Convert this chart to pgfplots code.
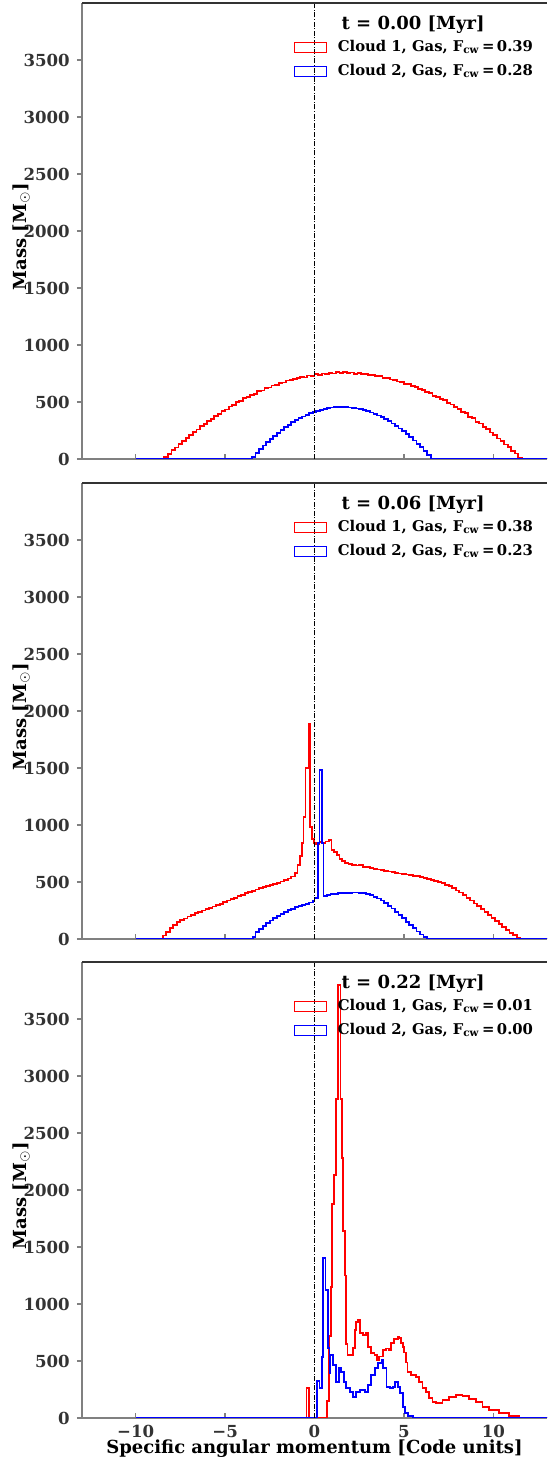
\documentclass[border=0pt]{standalone}
\usepackage{pgfplots}
\pgfplotsset{compat=1.18}
\usepackage{pgfplotstable}
\usepackage{fontspec}
\setmainfont{DejaVu Serif}

\pgfplotstableread{
x y
-10 0
-8.4 15
-8.2 45
-8.0 76
-7.8 100
-7.6 133
-7.4 155
-7.2 187
-7.0 208
-6.8 240
-6.6 258
-6.4 288
-6.2 305
-6.0 335
-5.8 351
-5.6 378
-5.4 394
-5.2 420
-5.0 434
-4.8 460
-4.6 472
-4.4 497
-4.2 508
-4.0 532
-3.8 541
-3.6 563
-3.4 572
-3.2 593
-3.0 601
-2.8 620
-2.6 627
-2.4 645
-2.2 650
-2.0 668
-1.8 671
-1.6 688
-1.4 690
-1.2 705
-1.0 707
-0.8 720
-0.6 715
-0.4 733
-0.2 728
0.0 744
0.2 738
0.4 750
0.6 746
0.8 757
1.0 750
1.2 760
1.4 753
1.6 762
1.8 752
2.0 759
2.2 748
2.4 755
2.6 744
2.8 748
3.0 736
3.2 740
3.4 726
3.6 727
3.8 713
4.0 713
4.2 698
4.4 696
4.6 680
4.8 678
5.0 660
5.2 656
5.4 638
5.6 633
5.8 613
6.0 607
6.2 586
6.4 578
6.6 556
6.8 547
7.0 524
7.2 514
7.4 489
7.6 478
7.8 453
8.0 440
8.2 413
8.4 400
8.6 371
8.8 357
9.0 327
9.2 311
9.4 281
9.6 263
9.8 232
10.0 213
10.2 180
10.4 160
10.6 127
10.8 105
11.0 71
11.2 48
11.4 13
11.6 0
14 0
}\redA

\pgfplotstableread{
x y
-10 0
-3.5 18
-3.3 53
-3.1 86
-2.9 118
-2.7 148
-2.5 177
-2.3 205
-2.1 231
-1.9 255
-1.7 279
-1.5 300
-1.3 321
-1.1 340
-0.9 357
-0.7 373
-0.5 388
-0.3 401
-0.1 413
0.1 423
0.3 432
0.5 440
0.7 446
0.9 451
1.1 454
1.3 456
1.5 456
1.7 455
1.9 452
2.1 448
2.3 443
2.5 436
2.7 428
2.9 418
3.1 407
3.3 395
3.5 381
3.7 365
3.9 349
4.1 330
4.3 311
4.5 290
4.7 267
4.9 243
5.1 218
5.3 191
5.5 163
5.7 133
5.9 102
6.1 69
6.3 35
6.5 0
14 0
}\blueA

\pgfplotstableread{
x y
-10 0
-8.46 30
-8.3 60
-8.1 95
-7.9 125
-7.7 148
-7.5 165
-7.3 180
-7.1 198
-6.9 210
-6.7 225
-6.5 238
-6.3 250
-6.1 262
-5.9 272
-5.7 285
-5.5 297
-5.3 310
-5.1 326
-4.9 338
-4.7 350
-4.5 362
-4.3 375
-4.1 388
-3.9 400
-3.7 412
-3.5 420
-3.3 435
-3.1 445
-2.9 455
-2.7 466
-2.5 472
-2.3 482
-2.1 492
-1.9 505
-1.7 515
-1.5 530
-1.3 548
-1.1 580
-0.95 650
-0.82 725
-0.72 840
-0.62 1070
-0.50 1500
-0.32 1886
-0.24 985
-0.16 880
-0.05 845
0.10 830
0.28 848
0.45 840
0.62 855
0.80 870
0.95 780
1.10 760
1.25 735
1.40 700
1.55 684
1.70 664
1.90 655
2.10 650
2.30 645
2.50 652
2.70 635
2.90 630
3.10 620
3.30 615
3.50 610
3.70 605
3.90 598
4.10 592
4.30 590
4.50 580
4.70 575
4.90 570
5.10 565
5.30 560
5.50 555
5.70 550
5.90 545
6.10 535
6.30 528
6.50 520
6.70 512
6.90 500
7.10 490
7.30 477
7.50 465
7.70 445
7.90 425
8.10 408
8.30 385
8.50 360
8.70 338
8.90 312
9.10 288
9.30 263
9.50 235
9.70 210
9.90 182
10.10 155
10.30 130
10.50 105
10.70 80
10.90 55
11.10 32
11.30 12
11.50 0
14 0
}\redB

\pgfplotstableread{
x y
-10 0
-3.46 20
-3.3 60
-3.1 90
-2.9 115
-2.7 140
-2.5 162
-2.3 185
-2.1 203
-1.9 222
-1.7 238
-1.5 252
-1.3 265
-1.1 278
-0.9 290
-0.7 300
-0.5 310
-0.3 320
-0.1 333
0.0 360
0.19 845
0.28 1482
0.41 845
0.50 380
0.70 386
0.90 392
1.10 396
1.30 400
1.50 402
1.70 404
1.90 406
2.10 407
2.30 408
2.50 406
2.70 400
2.90 392
3.10 383
3.30 370
3.50 355
3.70 337
3.90 315
4.10 292
4.30 267
4.50 240
4.70 212
4.90 182
5.10 152
5.30 122
5.50 93
5.70 66
5.90 40
6.10 18
6.30 5
6.48 0
14 0
}\blueB

\pgfplotstableread{
x y
-10 0
-0.45 260
-0.30 0
0.69 150
0.81 720
0.93 1150
0.99 1880
1.10 2130
1.22 2800
1.33 3800
1.45 2800
1.52 2280
1.60 1640
1.70 1250
1.78 650
1.85 550
2.14 611
2.27 772
2.32 845
2.42 860
2.55 743
2.70 728
2.88 743
2.97 626
3.16 567
3.35 553
3.48 509
3.62 540
3.81 596
4.00 610
4.18 596
4.28 655
4.46 690
4.65 713
4.75 700
4.83 655
4.93 625
5.02 575
5.11 487
5.20 400
5.39 377
5.67 357
5.86 319
6.04 260
6.23 231
6.41 173
6.60 143
6.78 134
7.16 158
7.53 187
7.90 199
8.27 193
8.64 170
9.01 140
9.39 98
9.76 70
10.32 45
10.87 15
11.43 5
11.8 0
14 0
}\redC

\pgfplotstableread{
x y
-10 0
0.15 327
0.28 263
0.43 538
0.49 1401
0.62 1123
0.75 611
0.84 392
0.90 553
1.03 465
1.18 319
1.37 436
1.50 406
1.65 319
1.78 260
1.97 231
2.16 187
2.34 231
2.53 245
2.81 231
3.00 289
3.18 377
3.37 436
3.56 480
3.75 509
3.84 436
4.03 275
4.21 260
4.40 275
4.49 319
4.68 275
4.78 216
4.93 99
5.06 41
5.24 18
5.52 3
6.46 0
14 0
}\blueC

\pgfplotsset{
  panel/.style={
    scale only axis, width=232.5pt, height=228pt,
    xmin=-13, xmax=13, ymin=0, ymax=4000,
    axis x line*=bottom, axis y line*=left,
    axis line style={black!50, line width=0.6pt},
    xtick={-10,-5,0,5,10},
    ytick={0,500,1000,1500,2000,2500,3000,3500},
    yticklabels={0,500,1000,1500,2000,2500,3000,3500},
    xtick align=inside, ytick align=outside,
    major tick length=2.6pt,
    tick style={black!50, line width=0.6pt},
    ticklabel style={font=\fontsize{8.3}{9}\selectfont\bfseries, text=black!80},
    ylabel={Mass [M$_\odot$]},
    every axis y label/.style={at={(rel axis cs:-0.097,0.488)}, rotate=90, anchor=south,
      font=\fontsize{9}{10}\selectfont\bfseries},
    every axis x label/.style={at={(rel axis cs:0.5,0)}, yshift=-7.3pt, anchor=north,
      font=\fontsize{9}{10}\selectfont\bfseries},
    legend cell align=left,
    legend image code/.code={\draw[##1, line width=0.7pt] (0pt,-2.5pt) rectangle (16pt,2.5pt);},
    legend style={at={(rel axis cs:0.454,0.925)}, anchor=north west, draw=none, fill=none,
      inner sep=0pt, row sep=2pt,
      font=\fontsize{7.4}{8}\selectfont\bfseries,
      nodes={inner sep=1pt, text height=6pt, text depth=2pt},
      /tikz/every odd column/.append style={column sep=4.5pt}},
  },
  histr/.style={const plot, red, line width=0.9pt},
  histb/.style={const plot, blue, line width=0.9pt},
  vline/.style={black, line width=0.6pt, dash pattern=on 2.5pt off 0.8pt on 0.5pt off 0.8pt, forget plot},
}

\newcommand{\toplineandtitle}[1]{%
  \draw[black!80, line width=0.6pt] (rel axis cs:0,1) -- (rel axis cs:1,1);
  \node[font=\fontsize{9}{10}\selectfont\bfseries] at (rel axis cs:0.712,0.952) {#1};
}

\begin{document}
\begin{tikzpicture}
\begin{axis}[panel, at={(41pt,501pt)}, anchor=south west, xticklabel=\empty]
\addplot[histr] table {\redA};
\addlegendentry{Cloud 1, Gas, F\textsubscript{cw}\,=\,0.39}
\addplot[histb] table {\blueA};
\addlegendentry{Cloud 2, Gas, F\textsubscript{cw}\,=\,0.28}
\addplot[vline] coordinates {(0,0) (0,4000)};
\toplineandtitle{t = 0.00 [Myr]}
\end{axis}

\begin{axis}[panel, at={(41pt,261pt)}, anchor=south west, xticklabel=\empty]
\addplot[histr] table {\redB};
\addlegendentry{Cloud 1, Gas, F\textsubscript{cw}\,=\,0.38}
\addplot[histb] table {\blueB};
\addlegendentry{Cloud 2, Gas, F\textsubscript{cw}\,=\,0.23}
\addplot[vline] coordinates {(0,0) (0,4000)};
\toplineandtitle{t = 0.06 [Myr]}
\end{axis}

\begin{axis}[panel, at={(41pt,21.5pt)}, anchor=south west,
  xticklabels={−10,−5,0,5,10},
  xlabel={Specific angular momentum [Code units]}]
\addplot[histr] table {\redC};
\addlegendentry{Cloud 1, Gas, F\textsubscript{cw}\,=\,0.01}
\addplot[histb] table {\blueC};
\addlegendentry{Cloud 2, Gas, F\textsubscript{cw}\,=\,0.00}
\addplot[vline] coordinates {(0,0) (0,4000)};
\toplineandtitle{t = 0.22 [Myr]}
\end{axis}

\pgfresetboundingbox
\path[use as bounding box] (0,0) rectangle (273.5pt,730.5pt);
\end{tikzpicture}
\end{document}
